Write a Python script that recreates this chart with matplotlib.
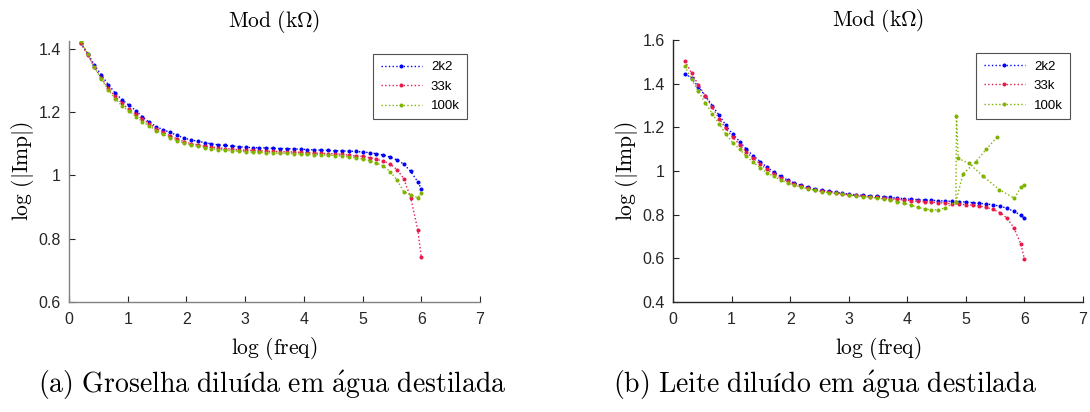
import matplotlib
matplotlib.use("Agg")
import matplotlib.pyplot as plt

plt.rcParams['mathtext.fontset'] = 'cm'
plt.rcParams['font.family'] = ['Liberation Sans', 'DejaVu Sans']

# ---------------- data ----------------
freq_log = [0.20, 0.32, 0.43, 0.55, 0.67, 0.79, 0.90, 1.02, 1.14, 1.25,
            1.37, 1.49, 1.60, 1.72, 1.84, 1.96, 2.07, 2.19, 2.31, 2.42,
            2.54, 2.66, 2.78, 2.89, 3.01, 3.13, 3.24, 3.36, 3.48, 3.60,
            3.71, 3.83, 3.95, 4.06, 4.18, 4.30, 4.41, 4.53, 4.65, 4.77,
            4.88, 5.00, 5.12, 5.23, 5.35, 5.47, 5.59, 5.70, 5.82, 5.94, 6.00]

# (a) Groselha
a_2k2 = [1.420, 1.385, 1.350, 1.318, 1.287, 1.260, 1.240, 1.222, 1.205, 1.185,
         1.168, 1.154, 1.145, 1.136, 1.127, 1.118, 1.113, 1.108, 1.104, 1.100,
         1.097, 1.095, 1.093, 1.091, 1.089, 1.088, 1.088, 1.087, 1.086, 1.085,
         1.085, 1.084, 1.083, 1.082, 1.081, 1.080, 1.079, 1.078, 1.078, 1.077,
         1.076, 1.074, 1.072, 1.069, 1.065, 1.058, 1.049, 1.036, 1.013, 0.980, 0.958]
a_33k = [1.418, 1.380, 1.343, 1.308, 1.276, 1.250, 1.228, 1.210, 1.193, 1.178,
         1.163, 1.148, 1.136, 1.126, 1.116, 1.107, 1.101, 1.097, 1.093, 1.090,
         1.087, 1.085, 1.083, 1.081, 1.080, 1.079, 1.078, 1.077, 1.076, 1.075,
         1.075, 1.074, 1.073, 1.072, 1.071, 1.070, 1.069, 1.068, 1.067, 1.064,
         1.062, 1.060, 1.056, 1.051, 1.046, 1.036, 1.018, 0.990, 0.930, 0.828, 0.743]
a_100k = [1.425, 1.383, 1.343, 1.305, 1.271, 1.243, 1.220, 1.204, 1.186, 1.170,
          1.156, 1.142, 1.130, 1.120, 1.110, 1.102, 1.096, 1.092, 1.088, 1.085,
          1.082, 1.080, 1.078, 1.077, 1.075, 1.074, 1.073, 1.072, 1.071, 1.070,
          1.070, 1.069, 1.068, 1.067, 1.066, 1.065, 1.064, 1.063, 1.061, 1.058,
          1.056, 1.052, 1.047, 1.040, 1.030, 1.012, 0.985, 0.949, 0.938, 0.930, 0.944]

# (b) Leite
b_2k2 = [1.446, 1.425, 1.385, 1.345, 1.300, 1.255, 1.210, 1.168, 1.135, 1.100,
         1.070, 1.043, 1.018, 0.995, 0.975, 0.958, 0.945, 0.934, 0.925, 0.918,
         0.912, 0.907, 0.902, 0.898, 0.894, 0.891, 0.889, 0.886, 0.884, 0.882,
         0.879, 0.876, 0.873, 0.871, 0.869, 0.867, 0.866, 0.864, 0.862, 0.861,
         0.860, 0.858, 0.855, 0.852, 0.849, 0.845, 0.838, 0.830, 0.815, 0.797, 0.783]
b_33k = [1.504, 1.448, 1.395, 1.345, 1.292, 1.240, 1.195, 1.155, 1.120, 1.088,
         1.058, 1.032, 1.008, 0.987, 0.968, 0.952, 0.940, 0.930, 0.921, 0.914,
         0.908, 0.903, 0.899, 0.895, 0.891, 0.888, 0.885, 0.882, 0.879, 0.876,
         0.873, 0.870, 0.867, 0.864, 0.861, 0.859, 0.857, 0.855, 0.853, 0.850,
         0.848, 0.846, 0.843, 0.840, 0.833, 0.824, 0.808, 0.785, 0.740, 0.665, 0.596]
b_100k_x = [0.20, 0.32, 0.43, 0.55, 0.67, 0.79, 0.90, 1.02, 1.14, 1.25,
            1.37, 1.49, 1.60, 1.72, 1.84, 1.96, 2.07, 2.19, 2.31, 2.42,
            2.54, 2.66, 2.78, 2.89, 3.01, 3.13, 3.24, 3.36, 3.48, 3.60,
            3.71, 3.83, 3.95, 4.06, 4.18, 4.30, 4.41, 4.53, 4.65, 4.83,
            4.84, 4.87, 5.05, 5.30, 5.57, 5.83, 5.94, 6.00]
b_100k_y = [1.480, 1.420, 1.366, 1.313, 1.262, 1.215, 1.170, 1.130, 1.100, 1.068,
            1.040, 1.015, 0.993, 0.975, 0.958, 0.945, 0.935, 0.926, 0.918, 0.912,
            0.906, 0.901, 0.897, 0.893, 0.889, 0.886, 0.883, 0.880, 0.876, 0.872,
            0.867, 0.860, 0.852, 0.844, 0.834, 0.826, 0.822, 0.822, 0.832, 0.859,
            1.252, 1.058, 1.035, 0.975, 0.915, 0.875, 0.925, 0.936]
b_100k_branch_x = [4.83, 4.95, 5.17, 5.35, 5.54]
b_100k_branch_y = [0.859, 0.986, 1.043, 1.100, 1.157]

labels = ['2k2', '33k', '100k']
colors = ['#0000ff', '#e8194b', '#80b300']
x_ticks = [0, 1, 2, 3, 4, 5, 6, 7]
a_yticks = [0.6, 0.8, 1.0, 1.2, 1.4]
b_yticks = [0.4, 0.6, 0.8, 1.0, 1.2, 1.4, 1.6]
a_ylim = (0.6, 1.426)
b_ylim = (0.4, 1.6)

title = r'$\mathrm{Mod\ (k\Omega)}$'
xlabel = r'$\mathrm{log\ (freq)}$'
ylabel = r'$\mathrm{log\ (|Imp|)}$'
cap_a = r'$\mathrm{(a)\ Groselha\ diluída\ em\ \acute{a}gua\ destilada}$'
cap_b = r'$\mathrm{(b)\ Leite\ diluído\ em\ \acute{a}gua\ destilada}$'

# ---------------- figure ----------------
W, H = 1090, 412
fig = plt.figure(figsize=(W / 100, H / 100), dpi=100)
ax_a = fig.add_axes([69 / W, 1 - 302 / H, 411 / W, 261.3 / H])
ax_b = fig.add_axes([673 / W, 1 - 302 / H, 410 / W, 262 / H])

style = dict(linestyle=':', marker='.', markersize=3.8, linewidth=1.0)

for y, lab, c in zip([a_2k2, a_33k, a_100k], labels, colors):
    ax_a.plot(freq_log, y, color=c, label=lab, **style)
for y, lab, c in zip([b_2k2, b_33k], labels[:2], colors[:2]):
    ax_b.plot(freq_log, y, color=c, label=lab, **style)
ax_b.plot(b_100k_x, b_100k_y, color=colors[2], label=labels[2], **style)
ax_b.plot(b_100k_branch_x, b_100k_branch_y, color=colors[2], **style)

for ax, yt, yl, spc, w in [(ax_a, a_yticks, a_ylim, '#808080', 411),
                           (ax_b, b_yticks, b_ylim, '#262626', 410)]:
    ax.set_xlim(0, 7)
    ax.set_ylim(*yl)
    ax.set_xticks(x_ticks)
    ax.set_yticks(yt)
    ax.set_yticklabels([('%g' % v) for v in yt])
    ax.spines['top'].set_visible(False)
    ax.spines['right'].set_visible(False)
    for s in ('left', 'bottom'):
        ax.spines[s].set_color(spc)
        ax.spines[s].set_linewidth(1.0)
    ax.tick_params(direction='in', length=4, width=0.8, color='#262626',
                   labelsize=11.5, labelcolor='#262626')
    ax.tick_params(axis='x', pad=7)
    ax.tick_params(axis='y', pad=6)
    ax.set_title(title, fontsize=15.5, pad=10)
    ax.set_xlabel(xlabel, fontsize=15.5, labelpad=6)
    ax.set_ylabel(ylabel, fontsize=15.5, labelpad=2)
    leg = ax.legend(loc='upper right', fontsize=9.5, frameon=True, fancybox=False,
                    handlelength=3.1, handletextpad=0.7, borderpad=0.55,
                    labelspacing=0.55, borderaxespad=0,
                    bbox_to_anchor=(1 - 13 / w, 1 - 13 / 261))
    leg.get_frame().set_edgecolor('#262626')
    leg.get_frame().set_linewidth(0.8)

fig.text(272 / W, 1 - 385 / H, cap_a, ha='center', va='center', fontsize=20)
fig.text(825 / W, 1 - 385 / H, cap_b, ha='center', va='center', fontsize=20)

fig.savefig('out.png', dpi=100)
